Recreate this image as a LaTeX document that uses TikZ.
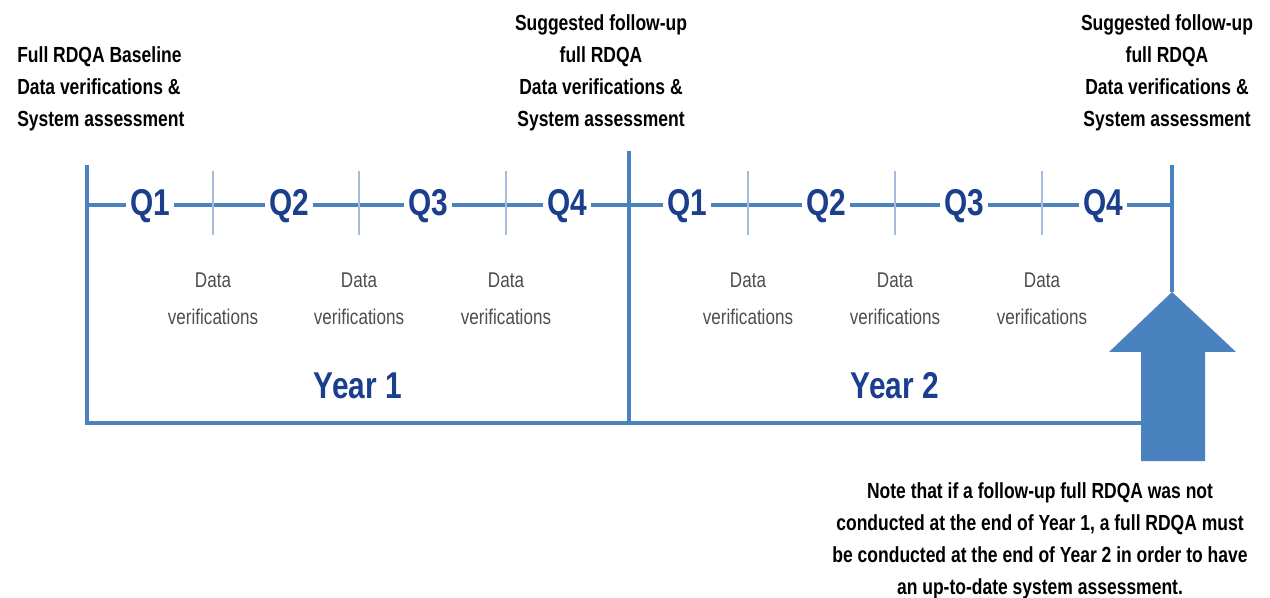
\documentclass[tikz,border=0pt]{standalone}
\usepackage{fontspec}
\setmainfont{Liberation Sans}[FakeStretch=0.8]
\usetikzlibrary{positioning}
\definecolor{lineblue}{HTML}{4A81BF}
\definecolor{tickblue}{HTML}{A7BADD}
\definecolor{qblue}{HTML}{1B3F8C}
\definecolor{txtgray}{HTML}{4D4D4D}

\begin{document}
\begin{tikzpicture}[x=0.75pt,y=-0.75pt,
  frame/.style={lineblue, line width=3.6pt},
  tickline/.style={tickblue, line width=1.8pt},
  qlabel/.style={fill=white, text=qblue, inner xsep=3pt, inner ysep=0pt,
    font=\fontsize{28}{30}\selectfont\bfseries},
  yearlabel/.style={text=qblue, inner sep=0pt, font=\fontsize{28}{30}\selectfont\bfseries},
  dvlabel/.style={text=txtgray, align=center, inner sep=0pt, font=\fontsize{16}{28}\selectfont},
  headlabel/.style={inner sep=0pt, font=\fontsize{16.4}{24}\selectfont\bfseries}]
\useasboundingbox (0,0) rectangle (1270,598);

% corners of the two years
\coordinate (tl) at (87,165);
\coordinate (bl) at (87,423);
\coordinate (tm) at (629,151);
\coordinate (bm) at (629,423);
\coordinate (tr) at (1172,165);
\coordinate (ml) at (87,205);
\coordinate (mr) at (1172,205);
\coordinate (tip) at (1172,292);
\coordinate (br) at (1142,423);

\draw[frame] (ml) -- (mr);
\draw[frame] (tl) -- (bl) -- (br);
\draw[frame] (tm) -- (bm);
\draw[frame] (tr) -- (tip);

% ticks and data verifications
\foreach \x/\n in {213/a,359/b,506/c,748/d,895/e,1042/f}{
  \draw[tickline] (\x,171) -- (\x,235);
  \node[dvlabel] (dv\n) at (\x,299) {Data\\verifications};
}

% quarters
\foreach \x/\q/\n in {150/Q1/a,289/Q2/b,428/Q3/c,567/Q4/d,687/Q1/e,826/Q2/f,964/Q3/g,1103/Q4/h}
  \node[qlabel] (q\n) at (\x,206) {\q};

\node[yearlabel] (year1) at (358,386) {Year 1};
\node[yearlabel] (year2) at (895,386) {Year 2};

% big arrow
\fill[lineblue] (tip) -- (1236,352) -- (1205,352) -- (1205,461)
  -- (1141,461) -- (1141,352) -- (1109,352) -- cycle;

\node[headlabel, anchor=south west, align=left] (base) at (17,131)
  {Full RDQA Baseline\\Data verifications \&\\System assessment};
\node[headlabel, anchor=south, align=center] (follow1) at (601,131)
  {Suggested follow-up\\full RDQA\\Data verifications \&\\System assessment};
\node[headlabel, anchor=south, align=center] (follow2) at (1167,131)
  {Suggested follow-up\\full RDQA\\Data verifications \&\\System assessment};
\node[headlabel, anchor=north, align=center] (note) at (1040,482)
  {Note that if a follow-up full RDQA was not\\conducted at the end of Year 1, a full RDQA must\\be conducted at the end of Year 2 in order to have\\an up-to-date system assessment.};
\end{tikzpicture}
\end{document}
